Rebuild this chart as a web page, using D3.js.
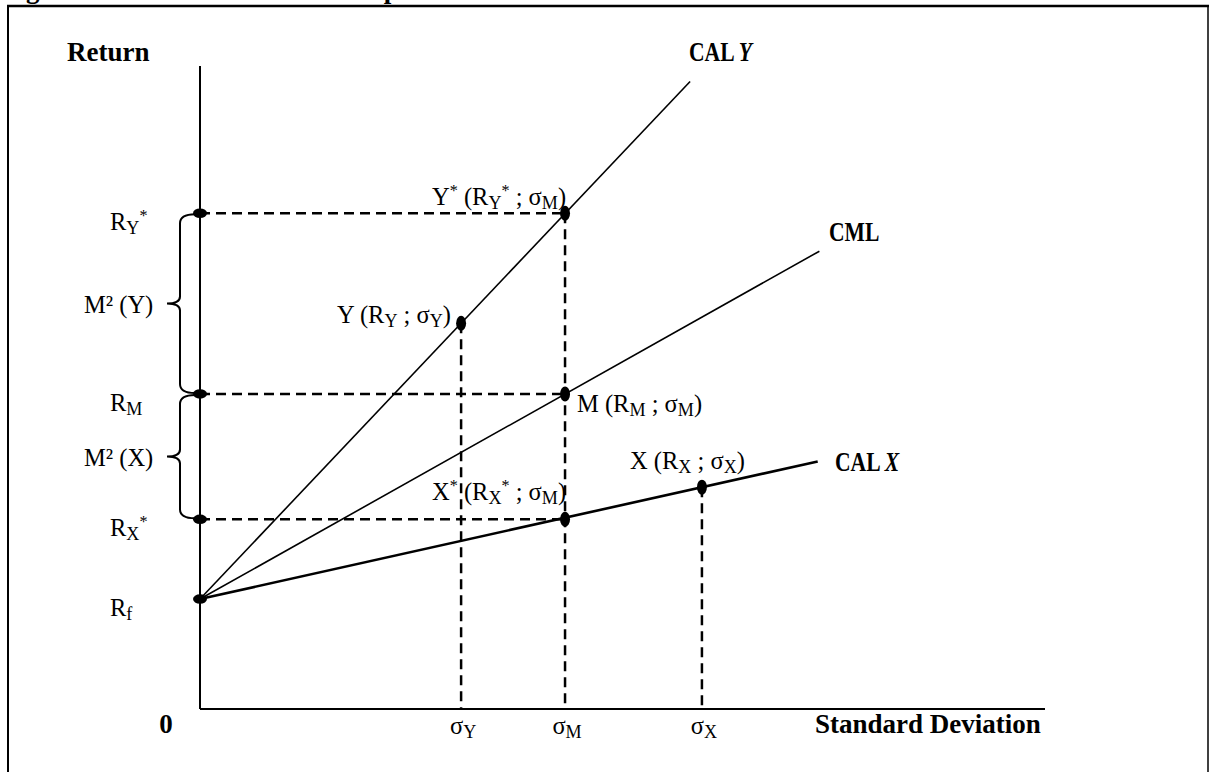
<!DOCTYPE html>
<html>
<head>
<meta charset="utf-8">
<script src="https://cdn.jsdelivr.net/npm/d3@7"></script>
<style>
  body { margin: 0; background: #fff; }
  svg text { font-family: "Liberation Serif", "DejaVu Serif", serif; fill: #000; }
</style>
</head>
<body>
<div id="chart"></div>
<script>
// Values (sigma on x, return on y, arbitrary units)
const pointNames = ["Rf", "RX*", "RM", "RY*", "Y", "Y*", "M", "X*", "X"];
const pointSigma = [0, 0, 0, 0, 3.09, 4.32, 4.32, 4.32, 5.94];
const pointReturn = [1.71, 2.95, 4.90, 7.71, 6.00, 7.71, 4.90, 2.95, 3.45];

const lineNames = ["CAL Y", "CML", "CAL X"];
const lineEndSigma = [5.80, 7.33, 7.31];
const lineEndReturn = [9.76, 7.12, 3.85];

const sigmaTicks = ["σ_{Y}", "σ_{M}", "σ_{X}"];
const sigmaTickValues = [3.09, 4.32, 5.94];

const returnTicks = ["R_{Y}^{*}", "R_{M}", "R_{X}^{*}", "R_{f}"];
const returnTickValues = [7.71, 4.90, 2.95, 1.71];

const braceLabels = ["M² (Y)", "M² (X)"];
const braceFrom = [7.71, 4.90];
const braceTo = [4.90, 2.95];

const pointLabels = ["Y (R_{Y} ; σ_{Y})", "Y^{*} (R_{Y}^{*} ; σ_{M})", "M (R_{M} ; σ_{M})", "X^{*} (R_{X}^{*} ; σ_{M})", "X (R_{X} ; σ_{X})"];

const width = 1209, height = 772;
const fsize = 24.5;

const svg = d3.select("#chart")
  .append("svg")
  .attr("width", width)
  .attr("height", height);

const x = d3.scaleLinear().domain([0, 10]).range([200, 1045]);
const y = d3.scaleLinear().domain([0, 10]).range([709, 66]);

// write a label with _{sub} and ^{sup} parts
function richText(g, px, py, str, anchor, size) {
  const t = g.append("text")
    .attr("x", px)
    .attr("y", py)
    .attr("text-anchor", anchor)
    .style("font-size", size + "px");
  let shift = 0;
  str.split(/(_\{[^}]*\}|\^\{[^}]*\})/).filter(s => s.length).forEach(s => {
    let target = 0, fs = size, txt = s;
    if (s.startsWith("_{")) { target = 0.16 * size; fs = 0.74 * size; txt = s.slice(2, -1); }
    if (s.startsWith("^{")) { target = -0.38 * size; fs = 0.66 * size; txt = s.slice(2, -1); }
    t.append("tspan")
      .attr("dy", target - shift)
      .style("font-size", fs + "px")
      .text(txt);
    shift = target;
  });
  return t;
}

// frame and cut off caption
svg.append("text")
  .attr("x", 2)
  .attr("y", -2)
  .style("font-size", "27px")
  .style("font-weight", "bold")
  .text("Figure 4.1: Illustration of the M² performance measure");

svg.append("line").attr("x1", 7).attr("x2", width).attr("y1", 6).attr("y2", 6)
  .attr("stroke", "#000").attr("stroke-width", 2.5);
svg.append("line").attr("x1", 8).attr("x2", 8).attr("y1", 6).attr("y2", height)
  .attr("stroke", "#000").attr("stroke-width", 2);
svg.append("line").attr("x1", 1208).attr("x2", 1208).attr("y1", 6).attr("y2", height)
  .attr("stroke", "#000").attr("stroke-width", 1.5);

// axes
svg.append("line")
  .attr("x1", x(0)).attr("x2", x(0))
  .attr("y1", y(10)).attr("y2", y(0))
  .attr("stroke", "#000").attr("stroke-width", 2);
svg.append("line")
  .attr("x1", x(0)).attr("x2", x(10))
  .attr("y1", y(0)).attr("y2", y(0))
  .attr("stroke", "#000").attr("stroke-width", 2);

// dashed guides
const idx = n => pointNames.indexOf(n);
const dashed = svg.append("g")
  .attr("stroke", "#000")
  .attr("stroke-width", 2.5)
  .attr("stroke-dasharray", "10,6");

["Y*", "M", "X*"].forEach(n => {
  const i = idx(n);
  dashed.append("line")
    .attr("x1", x(0)).attr("x2", x(pointSigma[i]))
    .attr("y1", y(pointReturn[i])).attr("y2", y(pointReturn[i]));
});
["Y", "Y*", "X"].forEach(n => {
  const i = idx(n);
  dashed.append("line")
    .attr("x1", x(pointSigma[i])).attr("x2", x(pointSigma[i]))
    .attr("y1", y(pointReturn[i])).attr("y2", y(0));
});

// CAL / CML lines from Rf
const rf = idx("Rf");
lineNames.forEach((name, i) => {
  svg.append("line")
    .attr("x1", x(pointSigma[rf])).attr("y1", y(pointReturn[rf]))
    .attr("x2", x(lineEndSigma[i])).attr("y2", y(lineEndReturn[i]))
    .attr("stroke", "#000")
    .attr("stroke-width", name === "CAL X" ? 2.6 : 1.6);
});

// points: flat on the return axis, tall elsewhere
svg.append("g")
  .selectAll("ellipse")
  .data(pointNames)
  .join("ellipse")
  .attr("cx", (d, i) => x(pointSigma[i]))
  .attr("cy", (d, i) => y(pointReturn[i]))
  .attr("rx", (d, i) => pointSigma[i] === 0 ? 7 : 5)
  .attr("ry", (d, i) => pointSigma[i] === 0 ? 4.8 : 7.5)
  .attr("fill", "#000");

// braces
braceLabels.forEach((label, i) => {
  const y0 = y(braceFrom[i]) + 1, y1 = y(braceTo[i]) - 1, ym = (y0 + y1) / 2;
  const bx = 180, end = 195, tip = 167;
  svg.append("path")
    .attr("d", `M${end},${y0} Q${bx},${y0} ${bx},${y0 + 9} L${bx},${ym - 7} Q${bx},${ym} ${tip},${ym} Q${bx},${ym} ${bx},${ym + 7} L${bx},${y1 - 9} Q${bx},${y1} ${end},${y1}`)
    .attr("fill", "none")
    .attr("stroke", "#000")
    .attr("stroke-width", 2);
  richText(svg, 84, ym + 9, label, "start", fsize);
});

// return ticks
returnTicks.forEach((t, i) => {
  richText(svg, 110, y(returnTickValues[i]) + 17, t, "start", fsize);
});

// sigma ticks
sigmaTicks.forEach((t, i) => {
  richText(svg, x(sigmaTickValues[i]) + 2, 734, t, "middle", fsize);
});

// point labels
richText(svg, 451, 323, pointLabels[0], "end", fsize);
richText(svg, 432, 205, pointLabels[1], "start", fsize);
richText(svg, 577, 412, pointLabels[2], "start", fsize);
richText(svg, 432, 500, pointLabels[3], "start", fsize);
richText(svg, 630, 469, pointLabels[4], "start", fsize);

// bold titles
const bold = (px, py, txt, anchor) => svg.append("text")
  .attr("x", px).attr("y", py)
  .attr("text-anchor", anchor || "start")
  .style("font-size", "27px")
  .style("font-weight", "bold")
  .text(txt);

bold(67, 61, "Return");
bold(166, 733, "0", "middle");
bold(815, 733, "Standard Deviation");

// line names, squeezed a little like the narrow caps of the original
const lineLabel = (px, py, txt, ital) => {
  const t = svg.append("text")
    .attr("transform", `translate(${px},${py}) scale(0.8,1)`)
    .style("font-size", "27px")
    .style("font-weight", "bold")
    .text(txt);
  if (ital) t.append("tspan").style("font-style", "italic").text(ital);
};
lineLabel(689, 61, "CAL ", "Y");
lineLabel(829, 241, "CML");
lineLabel(835, 471, "CAL ", "X");
</script>
</body>
</html>
